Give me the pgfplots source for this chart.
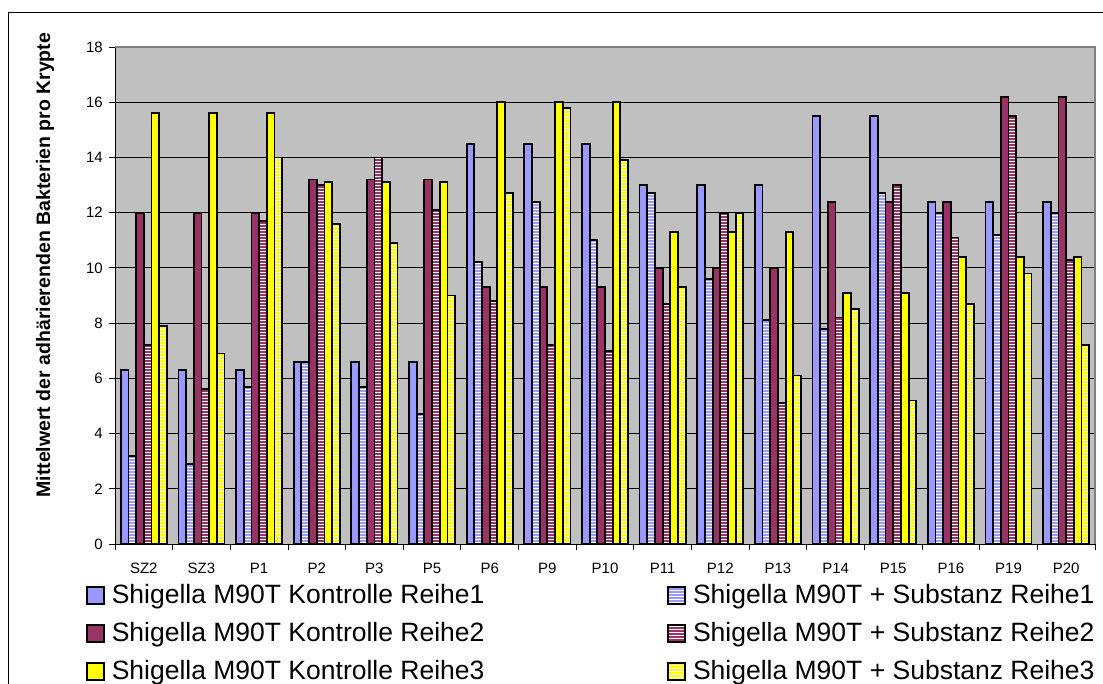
\documentclass[border=0pt]{standalone}
\usepackage{pgfplots}
\pgfplotsset{compat=1.18}
\usepackage{pgfplotstable}
\usepackage{fontspec}
\setmainfont{Liberation Sans}
\usetikzlibrary{patterns}
\definecolor{cB}{HTML}{9999FF}
\definecolor{cM}{HTML}{993366}
\definecolor{cY}{HTML}{FFFF00}
\definecolor{bgG}{HTML}{C0C0C0}
\definecolor{brd}{HTML}{808080}

\pgfdeclarepatternformonly{hstripes}{\pgfpointorigin}{\pgfqpoint{100pt}{1.2pt}}{\pgfqpoint{100pt}{3pt}}{%
  \pgfsetlinewidth{0.9pt}%
  \pgfpathmoveto{\pgfqpoint{0pt}{0.6pt}}\pgfpathlineto{\pgfqpoint{100pt}{0.6pt}}\pgfusepath{stroke}}

\pgfplotstableread{
x  K1   S1   K2   S2   K3   S3
0  6.3  3.2  12.0 7.2  15.6 7.9
1  6.3  2.9  12.0 5.6  15.6 6.9
2  6.3  5.7  12.0 11.7 15.6 14.0
3  6.6  6.6  13.2 13.0 13.1 11.6
4  6.6  5.7  13.2 14.0 13.1 10.9
5  6.6  4.7  13.2 12.1 13.1 9.0
6  14.5 10.2 9.3  8.8  16.0 12.7
7  14.5 12.4 9.3  7.2  16.0 15.8
8  14.5 11.0 9.3  7.0  16.0 13.9
9  13.0 12.7 10.0 8.7  11.3 9.3
10 13.0 9.6  10.0 12.0 11.3 12.0
11 13.0 8.1  10.0 5.1  11.3 6.1
12 15.5 7.8  12.4 8.2  9.1  8.5
13 15.5 12.7 12.4 13.0 9.1  5.2
14 12.4 12.0 12.4 11.1 10.4 8.7
15 12.4 11.2 16.2 15.5 10.4 9.8
16 12.4 12.0 16.2 10.3 10.4 7.2
}\datatable

\tikzset{
  solidbar/.style={draw=black, line width=1.8pt, fill=#1},
  stripebar/.style={draw=black, line width=1.8pt,
     preaction={fill=#1},
     preaction={pattern=hstripes, pattern color=white}},
}

\begin{document}
\begin{tikzpicture}
\useasboundingbox (0,0) rectangle (1103pt,-684pt);
\draw[line width=1pt] (8pt,-690pt) -- (8pt,-13pt) -- (1110pt,-13pt);
\begin{axis}[
  at={(115pt,-544pt)}, anchor=south west,
  scale only axis, width=980pt, height=497pt,
  ybar, bar width=0.13333,
  xmin=-0.5, xmax=16.5, ymin=0, ymax=18,
  ytick={0,2,...,18},
  xtick={-0.5,0.5,...,16.5},
  xticklabel=\empty,
  extra x ticks={0,1,...,16},
  extra x tick labels={SZ2,SZ3,P1,P2,P3,P5,P6,P9,P10,P11,P12,P13,P14,P15,P16,P19,P20},
  extra x tick style={major tick length=0pt, grid=none},
  axis x line*=bottom, axis y line*=left,
  axis line style={black, line width=1pt},
  tick align=outside, major tick length=6pt,
  tick style={black, line width=0.8pt},
  ymajorgrids, grid style={black, line width=0.8pt},
  axis background/.style={fill=bgG},
  after end axis/.code={\draw[brd, line width=1.5pt] (rel axis cs:0,1) -- (rel axis cs:1,1) -- (rel axis cs:1,0);},
  /pgf/number format/assume math mode=true,
  ticklabel style={font=\fontsize{15}{18}\selectfont, inner sep=0pt},
  xticklabel style={yshift=-19pt},
  yticklabel style={xshift=-6pt},
  ylabel={Mittelwert der adhärierenden Bakterien pro Krypte},
  every axis y label/.style={at={(axis description cs:-0.0714,0.561)}, rotate=90, anchor=center,
     font=\bfseries\fontsize{19.5}{23}\selectfont},
  legend columns=2,
  legend image code/.code={\draw[#1, line width=1.6pt] (0pt,-1pt) rectangle (17pt,16pt);},
  legend style={draw=none, fill=none, inner sep=0pt,
     at={(axis description cs:-0.0296,-0.0805)}, anchor=north west,
     font=\fontsize{26.5}{30}\selectfont,
     nodes={inner sep=0pt, text height=19pt, text depth=6pt, anchor=base west},
     row sep=13pt,
     /tikz/every odd column/.append style={column sep=7pt},
     /tikz/every even column/.append style={column sep=183pt}},
]
\addplot[solidbar=cB, bar shift=-0.33333] table[x=x,y=K1] {\datatable};
\addlegendentry{Shigella M90T Kontrolle Reihe1}
\addplot[stripebar=cB, bar shift=-0.2] table[x=x,y=S1] {\datatable};
\addlegendentry{Shigella M90T + Substanz Reihe1}
\addplot[solidbar=cM, bar shift=-0.066667] table[x=x,y=K2] {\datatable};
\addlegendentry{Shigella M90T Kontrolle Reihe2}
\addplot[stripebar=cM, bar shift=0.066667] table[x=x,y=S2] {\datatable};
\addlegendentry{Shigella M90T + Substanz Reihe2}
\addplot[solidbar=cY, bar shift=0.2] table[x=x,y=K3] {\datatable};
\addlegendentry{Shigella M90T Kontrolle Reihe3}
\addplot[stripebar=cY, bar shift=0.33333] table[x=x,y=S3] {\datatable};
\addlegendentry{Shigella M90T + Substanz Reihe3}
\end{axis}
\end{tikzpicture}
\end{document}
